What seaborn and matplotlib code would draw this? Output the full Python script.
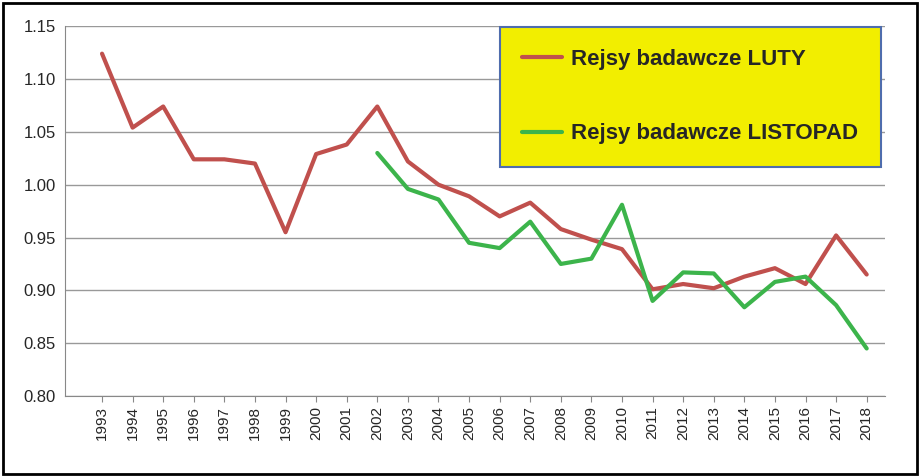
import matplotlib.pyplot as plt
import seaborn as sns
import pandas as pd
from matplotlib.patches import Rectangle

years = list(range(1993, 2019))
luty = [1.124, 1.054, 1.074, 1.024, 1.024, 1.020, 0.955, 1.029, 1.038, 1.074,
        1.022, 1.000, 0.989, 0.970, 0.983, 0.958, 0.948, 0.939, 0.901, 0.906,
        0.902, 0.913, 0.921, 0.906, 0.952, 0.915]
listopad_years = list(range(2002, 2019))
listopad = [1.030, 0.996, 0.986, 0.945, 0.940, 0.965, 0.925, 0.930, 0.981,
            0.890, 0.917, 0.916, 0.884, 0.908, 0.913, 0.886, 0.845]

sns.set_style('white')
plt.rcParams['font.family'] = ['Liberation Sans', 'DejaVu Sans']

fig = plt.figure(figsize=(9.2, 4.76), dpi=100)
ax = fig.add_axes([0.071, 0.168, 0.891, 0.777])

df1 = pd.DataFrame({'x': years, 'y': luty})
df2 = pd.DataFrame({'x': listopad_years, 'y': listopad})
sns.lineplot(data=df1, x='x', y='y', ax=ax, color='#c0504d', linewidth=3,
             label='Rejsy badawcze LUTY')
sns.lineplot(data=df2, x='x', y='y', ax=ax, color='#3cb44b', linewidth=3,
             label='Rejsy badawcze LISTOPAD')

ax.set_xlim(1991.8, 2018.6)
ax.set_ylim(0.80, 1.15)
ax.set_yticks([0.80 + 0.05 * i for i in range(8)])
ax.set_yticklabels([f'{0.80 + 0.05 * i:.2f}' for i in range(8)], fontsize=12)
ax.set_xticks(years)
ax.set_xticklabels([str(y) for y in years], rotation=90, fontsize=11)
ax.yaxis.grid(True, color='#999999', linewidth=1)
ax.set_xlabel('')
ax.set_ylabel('')
for s in ['top', 'right']:
    ax.spines[s].set_visible(False)
for s in ['left', 'bottom']:
    ax.spines[s].set_color('#888888')
ax.tick_params(axis='x', length=4, color='#888888', direction='out', bottom=True)

leg = ax.legend(loc='upper right', bbox_to_anchor=(1.0, 1.01),
                prop={'weight': 'bold', 'size': 16}, facecolor='#f2ee00',
                edgecolor='#4f6dad', framealpha=1, fancybox=False,
                borderpad=1.0, labelspacing=2.4, handlelength=1.8,
                handletextpad=0.4, borderaxespad=0.2)
leg.get_frame().set_linewidth(1.5)

fig.patches.append(Rectangle((0.003, 0.004), 0.994, 0.99, transform=fig.transFigure,
                             fill=False, edgecolor='black', linewidth=2))
fig.savefig('out.png', dpi=100)
